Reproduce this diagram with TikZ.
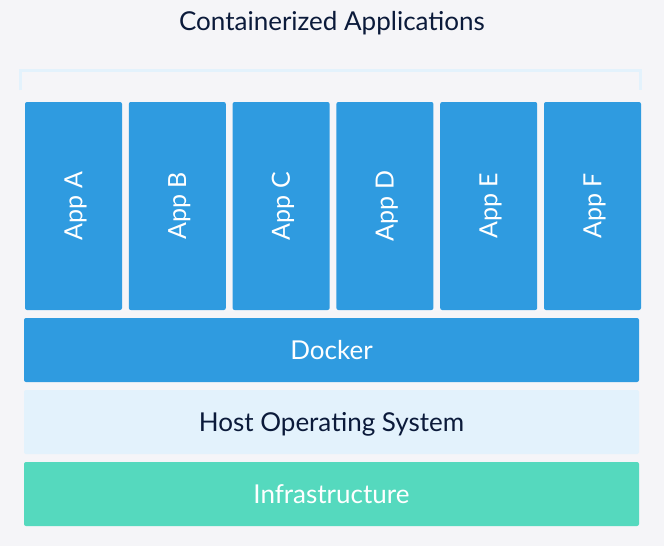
\documentclass[tikz,border=0pt]{standalone}
\usepackage{fontspec}
\setmainfont{Lato}
\usepackage{xcolor}
\definecolor{bgcol}{HTML}{F5F5F8}
\definecolor{appblue}{HTML}{2F9BE0}
\definecolor{oslight}{HTML}{E3F2FC}
\definecolor{infgreen}{HTML}{55D9BE}
\definecolor{navy}{HTML}{0B1A3A}

\tikzset{
	layer/.style={rectangle,rounded corners=2pt,minimum width=615pt,minimum height=64pt,inner sep=0pt,font=\fontsize{26}{30}\selectfont,text height=18pt,text depth=0pt},
	appbox/.style={rectangle,rounded corners=2pt,fill=appblue,rotate=90,minimum width=208pt,minimum height=97pt,inner sep=0pt,text=white,font=\fontsize{25}{30}\selectfont,text height=17.5pt,text depth=0pt},
}

\begin{document}
\begin{tikzpicture}[x=1pt,y=-1pt]
		\fill[bgcol] (0,0) rectangle (664,546);
		\useasboundingbox (0,0) rectangle (664,546);
		\node[text=navy,font=\fontsize{26}{30}\selectfont,text height=18pt,text depth=0pt,inner sep=0pt] (title) at (332,21.5) {Containerized Applications};
		\coordinate (bl) at (20,90);
		\coordinate (br) at (640,90);
		\draw[oslight,line width=3pt] (bl) -- ++(0,-20) -| (br);
		\foreach \name/\lbl [count=\i from 0] in {a/A,b/B,c/C,d/D,e/E,f/F}
			\node[appbox] (app\name) at ({73.5+103.8*\i},206) {App \lbl};
		\node[layer,fill=appblue,text=white] (docker) at (331.5,350) {Docker};
		\node[layer,fill=oslight,text=navy] (hostos) at (331.5,422) {Host Operating System};
		\node[layer,fill=infgreen,text=white] (infra) at (331.5,494) {Infrastructure};
	\end{tikzpicture}
\end{document}
